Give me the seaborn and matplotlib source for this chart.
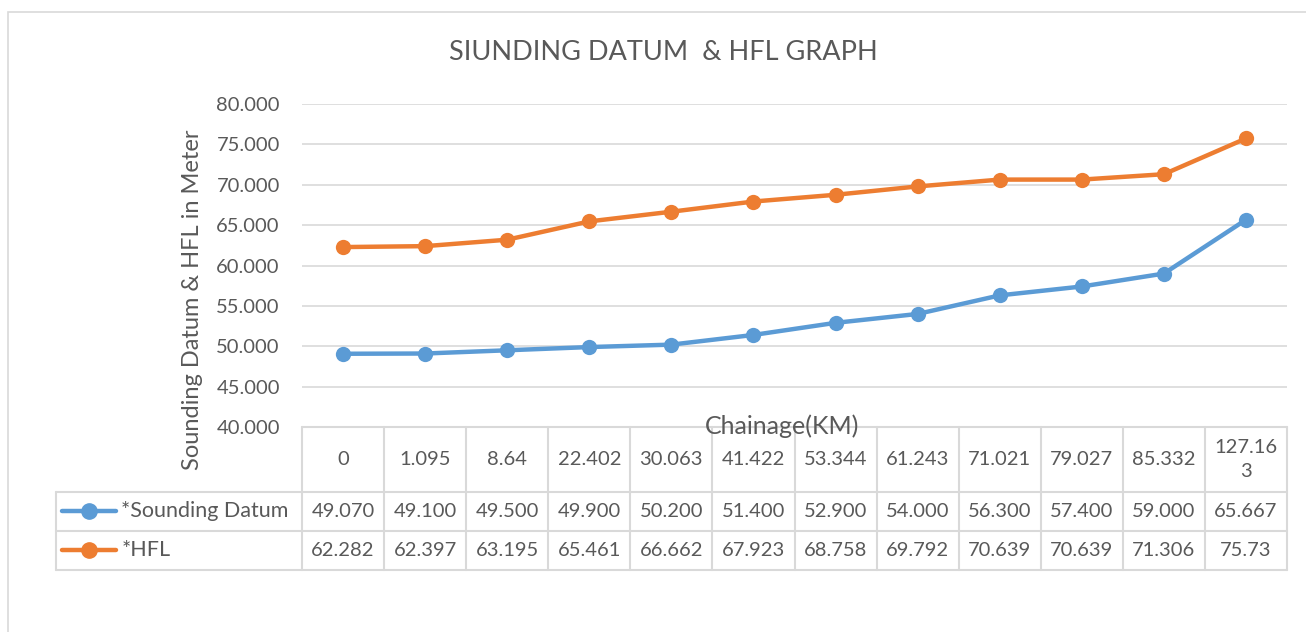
import pandas as pd
import numpy as np
import matplotlib.pyplot as plt
import matplotlib.transforms as mtransforms
from matplotlib.patches import Rectangle
import seaborn as sns

chainage = ['0', '1.095', '8.64', '22.402', '30.063', '41.422', '53.344',
            '61.243', '71.021', '79.027', '85.332', '127.16\n3']
sounding = [49.070, 49.100, 49.500, 49.900, 50.200, 51.400, 52.900,
            54.000, 56.300, 57.400, 59.000, 65.667]
hfl = [62.282, 62.397, 63.195, 65.461, 66.662, 67.923, 68.758,
       69.792, 70.639, 70.639, 71.306, 75.73]
sounding_txt = ['49.070', '49.100', '49.500', '49.900', '50.200', '51.400', '52.900',
                '54.000', '56.300', '57.400', '59.000', '65.667']
hfl_txt = ['62.282', '62.397', '63.195', '65.461', '66.662', '67.923', '68.758',
           '69.792', '70.639', '70.639', '71.306', '75.73']
series = ['*Sounding Datum', '*HFL']
colors = ['#5B9BD5', '#ED7D31']

df = pd.DataFrame({
    'chainage': chainage * 2,
    'value': sounding + hfl,
    'series': [series[0]] * len(chainage) + [series[1]] * len(chainage),
})

sns.set_style('white')
plt.rcParams['font.family'] = ['Lato', 'DejaVu Sans']
txt = '#595959'
grid = '#D9D9D9'

fig = plt.figure(figsize=(13.06, 6.32), dpi=100)
fig.patches.append(Rectangle((8 / 1306, -0.1), 1.2, 1 - 12 / 632 + 0.1,
                             transform=fig.transFigure, fill=False,
                             edgecolor=grid, linewidth=1.2))
ax = fig.add_axes([302 / 1306, 1 - 427 / 632, 985 / 1306, 323 / 632])

sns.lineplot(data=df, x='chainage', y='value', hue='series', palette=colors,
             marker='o', markersize=11, markeredgewidth=0, linewidth=3.2,
             sort=False, legend=False, ax=ax)

ax.set_xlim(-0.5, len(chainage) - 0.5)
ax.set_ylim(40, 80)
ax.set_yticks(np.arange(40, 81, 5))
ax.set_yticklabels([f'{v:.3f}' for v in np.arange(40, 81, 5)], color=txt, fontsize=14.5)
ax.set_xticks([])
ax.tick_params(axis='y', length=0, pad=16)
ax.grid(axis='y', color=grid, linewidth=1.2)
for s in ax.spines.values():
    s.set_visible(False)
ax.set_xlabel('')
ax.set_ylabel('Sounding Datum & HFL in Meter', color=txt, fontsize=17)
ax.yaxis.set_label_coords(-0.1005, 0.393)

fig.text(663 / 1306, 1 - 53 / 632, 'SIUNDING DATUM  & HFL GRAPH', ha='center',
         va='center', fontsize=19.5, color=txt)

# data table under the plot
tr = mtransforms.blended_transform_factory(ax.transData, ax.transAxes)
n = len(chainage)
y_head, y_r1, y_r2 = -0.2012, -0.322, -0.4427
x_left = -3.5
lk = dict(color=grid, linewidth=1.5, transform=tr, clip_on=False)
ax.plot([-0.5, n - 0.5], [0, 0], **lk)
for yy in (y_head, y_r1, y_r2):
    ax.plot([x_left, n - 0.5], [yy, yy], **lk)
for i in range(n + 1):
    ax.plot([i - 0.5, i - 0.5], [0, y_r2], **lk)
ax.plot([x_left, x_left], [y_head, y_r2], **lk)

for i in range(n):
    ax.text(i, y_head / 2, chainage[i], ha='center', va='center', fontsize=14.5,
            color=txt, transform=tr, linespacing=1.5)
    ax.text(i, (y_head + y_r1) / 2, sounding_txt[i], ha='center', va='center',
            fontsize=14.5, color=txt, transform=tr)
    ax.text(i, (y_r1 + y_r2) / 2, hfl_txt[i], ha='center', va='center',
            fontsize=14.5, color=txt, transform=tr)

for yy, name, c in zip([(y_head + y_r1) / 2, (y_r1 + y_r2) / 2], series, colors):
    ax.plot([-3.42, -2.77], [yy, yy], color=c, linewidth=3.2, transform=tr,
            clip_on=False, solid_capstyle='round')
    ax.plot([-3.095], [yy], marker='o', markersize=11, color=c, transform=tr,
            clip_on=False)
    ax.text(-2.70, yy, name, ha='left', va='center', fontsize=15.5, color=txt,
            transform=tr)

ax.text(0.487, 0.004, 'Chainage(KM)', ha='center', va='center', fontsize=18,
        color=txt, transform=ax.transAxes)

fig.savefig('out.png', dpi=100)
